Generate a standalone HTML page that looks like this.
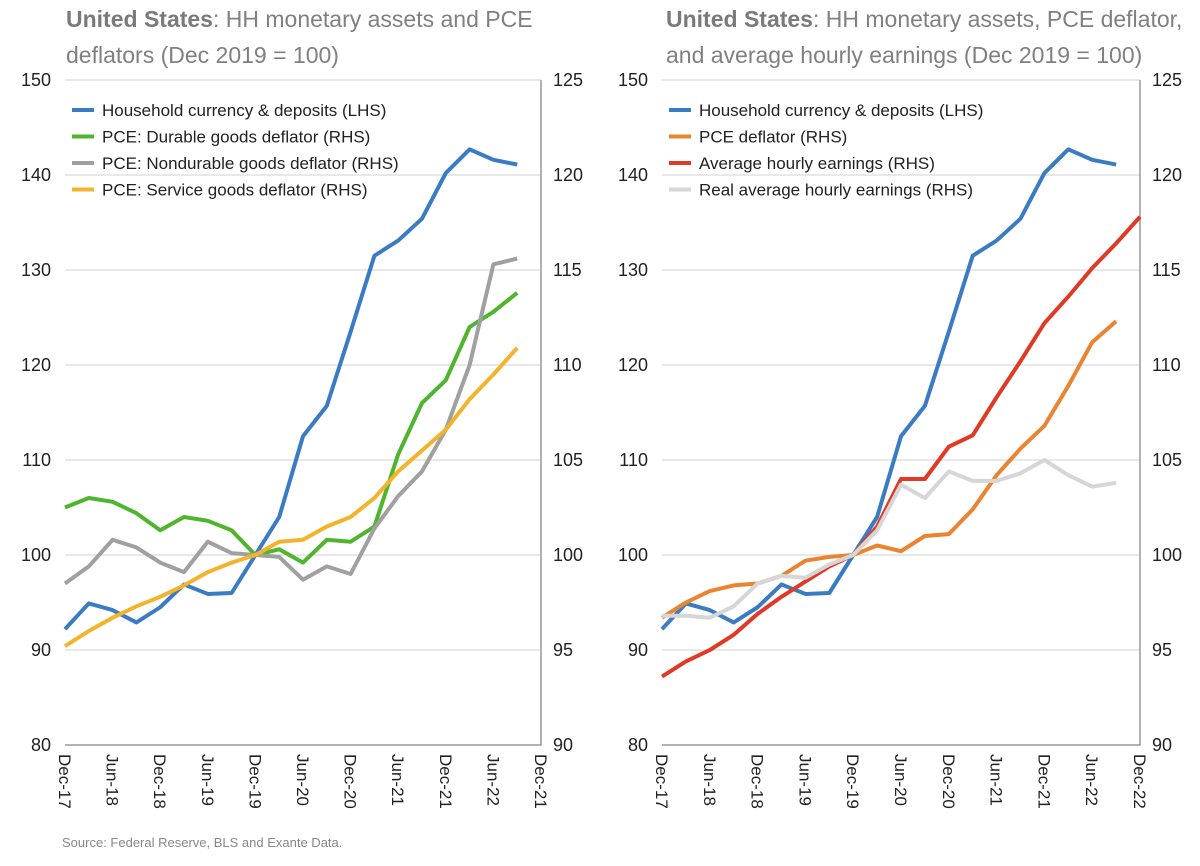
<!DOCTYPE html>
<html><head><meta charset="utf-8"><style>
body{margin:0;background:#fff;}
svg text{font-family:"Liberation Sans",Arial,sans-serif;}
</style></head><body>
<svg id="c" width="1200" height="861" xmlns="http://www.w3.org/2000/svg">
<g font-size="23" fill="#808080">
<text x="66" y="27"><tspan font-weight="bold" fill="#7a7a7a">United States</tspan>: HH monetary assets and PCE</text>
<text x="66" y="63">deflators (Dec 2019 = 100)</text></g>
<g font-size="23" fill="#808080">
<text x="666" y="27"><tspan font-weight="bold" fill="#7a7a7a">United States</tspan>: HH monetary assets, PCE deflator,</text>
<text x="666" y="63">and average hourly earnings (Dec 2019 = 100)</text></g>
<text x="62" y="847" font-size="13" fill="#888">Source: Federal Reserve, BLS and Exante Data.</text>
</svg>
<script>
const xLabelsLeft=["Dec-17","Jun-18","Dec-18","Jun-19","Dec-19","Jun-20","Dec-20","Jun-21","Dec-21","Jun-22","Dec-21"];
const xLabelsRight=["Dec-17","Jun-18","Dec-18","Jun-19","Dec-19","Jun-20","Dec-20","Jun-21","Dec-21","Jun-22","Dec-22"];
const lhsTicks=[80,90,100,110,120,130,140,150];
const rhsTicks=[90,95,100,105,110,115,120,125];
const deposits=[92.2,94.9,94.2,92.9,94.5,96.9,95.9,96.0,100,104,112.5,115.7,123.5,131.5,133.1,135.4,140.2,142.7,141.6,141.1];
const durable=[102.5,103.0,102.8,102.2,101.3,102.0,101.8,101.3,100.0,100.3,99.6,100.8,100.7,101.5,105.3,108.0,109.2,112.0,112.8,113.8];
const nondurable=[98.5,99.4,100.8,100.4,99.6,99.1,100.7,100.1,100,99.9,98.7,99.4,99.0,101.4,103.1,104.4,106.6,110.0,115.3,115.6];
const services=[95.2,96.0,96.7,97.3,97.8,98.4,99.1,99.6,100,100.7,100.8,101.5,102.0,103.0,104.4,105.5,106.6,108.2,109.5,110.9];
const pce=[96.7,97.5,98.1,98.4,98.5,98.9,99.7,99.9,100,100.5,100.2,101.0,101.1,102.4,104.2,105.6,106.8,108.9,111.2,112.3];
const ahe=[93.6,94.4,95.0,95.8,96.9,97.8,98.6,99.4,100,101.5,104.0,104.0,105.7,106.3,108.3,110.2,112.2,113.6,115.1,116.4,117.8];
const realAhe=[96.8,96.8,96.7,97.3,98.5,98.9,98.8,99.5,100,101.3,103.7,103.0,104.4,103.9,103.9,104.3,105.0,104.2,103.6,103.8];
const legendLeft=["Household currency & deposits (LHS)","PCE: Durable goods deflator (RHS)","PCE: Nondurable goods deflator (RHS)","PCE: Service goods deflator (RHS)"];
const legendRight=["Household currency & deposits (LHS)","PCE deflator (RHS)","Average hourly earnings (RHS)","Real average hourly earnings (RHS)"];
const NS="http://www.w3.org/2000/svg",svg=document.getElementById('c');
function mk(t,a,p){const e=document.createElementNS(NS,t);for(const k in a)e.setAttribute(k,a[k]);(p||svg).appendChild(e);return e;}
function panel(x0,x1,xl,series,cols,names,legend,pref){
 const top=80,bot=745;
 const yL=v=>bot-(v-80)/70*(bot-top), yR=v=>bot-(v-90)/35*(bot-top);
 const xs=i=>x0+i*(x1-x0)/20;
 const g=mk('g',{});
 
 
 lhsTicks.forEach((t,i)=>{const y=yL(t);
  if(t>80){const l=mk('line',{x1:x0,x2:x1,y1:y,y2:y,stroke:'#d9d9d9','stroke-width':1.2},g);}
  const a=mk('text',{x:x0-14,y:y+6,'text-anchor':'end','font-size':18,fill:'#222'},g);a.textContent=t;
  
  const b=mk('text',{x:x1+12,y:yR(rhsTicks[i])+6,'font-size':18,fill:'#222'},g);b.textContent=rhsTicks[i];
  });
 const ax=mk('path',{d:`M${x0} ${bot}H${x1}V${top}`,stroke:'#999','stroke-width':1.5,fill:'none'},g);
 
 xl.forEach((s,i)=>{const x=x0+i*(x1-x0)/10;
  const t=mk('text',{x:0,y:0,'font-size':17,fill:'#222',transform:`translate(${x-6},${bot+9}) rotate(90)`},g);t.textContent=s;
  });
 series.forEach((s,k)=>{const f=k==0?yL:yR;
  const p=mk('polyline',{points:s.map((v,i)=>xs(i)+','+f(v)).join(' '),fill:'none',stroke:cols[k],'stroke-width':4,'stroke-linejoin':'round'},g);
  });
 legend.forEach((s,k)=>{const y=110+k*26.5;
  const l=mk('line',{x1:x0+7,x2:x0+29,y1:y,y2:y,stroke:cols[k],'stroke-width':4},g);
  
  const t=mk('text',{x:x0+37,y:y+6,'font-size':17,fill:'#222'},g);t.textContent=s;
  });
}
panel(65,541,xLabelsLeft,[deposits,durable,nondurable,services],['#3a7cc4','#4fb52d','#a0a0a0','#f4b32c'],['deposits','durable','nondurable','services'],legendLeft,'left');
panel(662,1140,xLabelsRight,[deposits,pce,ahe,realAhe],['#3a7cc4','#ea8431','#e03a26','#d6d6d6'],['deposits','pce','ahe','real-ahe'],legendRight,'right');
</script>
</body></html>
